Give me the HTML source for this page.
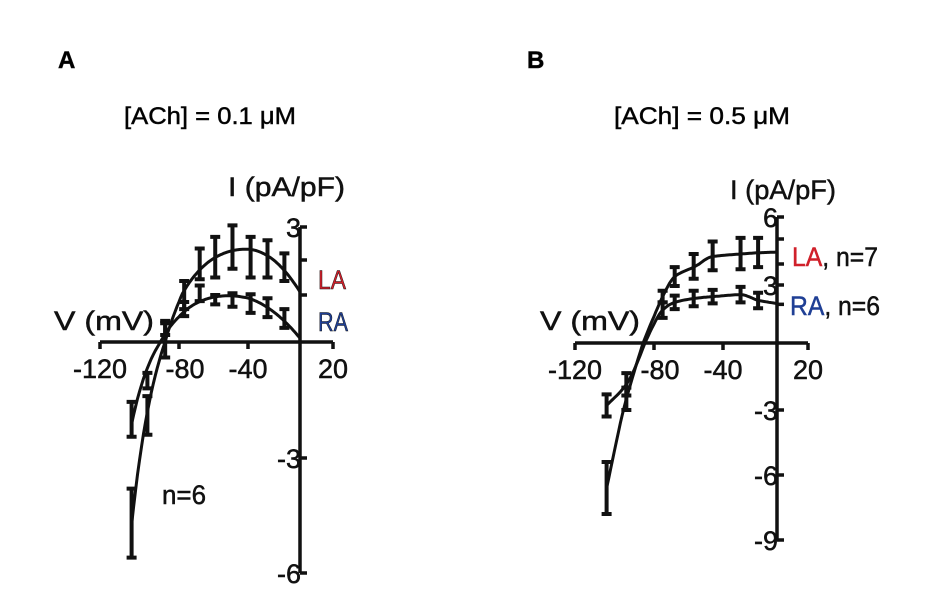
<!DOCTYPE html>
<html><head><meta charset="utf-8">
<style>
html,body{margin:0;padding:0;background:#fff;}
svg{display:block;font-family:"Liberation Sans",Arial,sans-serif;}
svg text{stroke:#111;stroke-width:0.5;}
</style></head>
<body>
<svg id="fig" width="941" height="608" viewBox="0 0 941 608">
  <text x="58" y="68" font-size="24" font-weight="bold">A</text>
  <text x="124" y="124" font-size="24" textLength="172" lengthAdjust="spacingAndGlyphs">[ACh] = 0.1 μM</text>
  <text x="527" y="68" font-size="24" font-weight="bold">B</text>
  <text x="614" y="124" font-size="24" textLength="176" lengthAdjust="spacingAndGlyphs">[ACh] = 0.5 μM</text>
  <g id="pa"></g>
  <g id="pb"></g>
</svg>
<script>
// ---------- data ----------
const xTicks = [-120, -80, -40, 20];
const xTickLabels = ["-120", "-80", "-40", "20"];
const aYTicks = [3, -3, -6];
const aYTickLabels = ["3", "-3", "-6"];
const aYMinor = [2, 1];
const bYTicks = [6, 3, -3, -6, -9];
const bYTickLabels = ["6", "3", "-3", "-6", "-9"];
const bYMinor = [5, 4, 2];

const aVoltage = [-104, -96, -87, -77, -68, -59, -49, -38, -25, -12];
const aLAMean = [-4.7, -1.9, 0.0, 1.05, 1.9, 2.1, 2.4, 2.1, 2.05, 1.8];
const aLAErr = [0.9, 0.5, 0.4, 0.35, 0.45, 0.6, 0.65, 0.6, 0.55, 0.4];
const aRAMean = [-2.0, -1.0, 0.3, 0.7, 1.07, 0.9, 0.9, 0.82, 0.73, 0.5];
const aRAErr = [0.45, 0.2, 0.15, 0.15, 0.2, 0.1, 0.15, 0.2, 0.2, 0.2];

const bVoltage = [-104, -94, -75, -68, -57, -46, -27, -14];
const bLAMean = [-6.6, -2.5, 2.4, 3.4, 3.85, 4.3, 4.4, 4.45];
const bLAErr = [1.2, 0.5, 0.3, 0.45, 0.55, 0.6, 0.65, 0.6];
const bRAMean = [-2.8, -1.85, 1.7, 2.1, 2.3, 2.4, 2.5, 2.2];
const bRAErr = [0.5, 0.5, 0.4, 0.35, 0.4, 0.35, 0.4, 0.4];

// ---------- helpers ----------
const NS = "http://www.w3.org/2000/svg";
function mk(parent, tag, attrs) {
  const e = document.createElementNS(NS, tag);
  for (const k in attrs) e.setAttribute(k, attrs[k]);
  parent.appendChild(e);
  return e;
}
function piece(dom, rng) {
  return function (v) {
    let i = 0;
    while (i < dom.length - 2 && ((dom[1] > dom[0]) ? v > dom[i + 1] : v < dom[i + 1])) i++;
    const t = (v - dom[i]) / (dom[i + 1] - dom[i]);
    return rng[i] + t * (rng[i + 1] - rng[i]);
  };
}
const basisA = [v => 1, v => v / 100, v => (v / 100) * (v / 100), v => Math.exp(-(v + 100) / 11)];
function fit(xs, ys, basis) {
  const m = basis.length, A = [], b = [];
  for (let r = 0; r < m; r++) { A.push(new Array(m).fill(0)); b.push(0); }
  xs.forEach((x, k) => {
    const phi = basis.map(f => f(x));
    for (let r = 0; r < m; r++) {
      b[r] += ys[k] * phi[r];
      for (let c = 0; c < m; c++) A[r][c] += phi[r] * phi[c];
    }
  });
  for (let i = 0; i < m; i++) {
    let p = i;
    for (let r = i + 1; r < m; r++) if (Math.abs(A[r][i]) > Math.abs(A[p][i])) p = r;
    [A[i], A[p]] = [A[p], A[i]]; [b[i], b[p]] = [b[p], b[i]];
    for (let r = i + 1; r < m; r++) {
      const f = A[r][i] / A[i][i];
      for (let c = i; c < m; c++) A[r][c] -= f * A[i][c];
      b[r] -= f * b[i];
    }
  }
  const co = new Array(m).fill(0);
  for (let i = m - 1; i >= 0; i--) {
    let s = b[i];
    for (let c = i + 1; c < m; c++) s -= A[i][c] * co[c];
    co[i] = s / A[i][i];
  }
  return v => basis.reduce((acc, f, i) => acc + co[i] * f(v), 0);
}
// monotone cubic (Fritsch-Carlson) interpolation, linear extrapolation past the end
function monotone(xs, ys) {
  const n = xs.length, d = [], m = [];
  for (let i = 0; i < n - 1; i++) d.push((ys[i + 1] - ys[i]) / (xs[i + 1] - xs[i]));
  m[0] = d[0]; m[n - 1] = d[n - 2];
  for (let i = 1; i < n - 1; i++) m[i] = (d[i - 1] * d[i] <= 0) ? 0 : 2 / (1 / d[i - 1] + 1 / d[i]);
  return v => {
    if (v >= xs[n - 1]) return ys[n - 1] + d[n - 2] * 0.5 * (v - xs[n - 1]);
    let i = 0;
    while (i < n - 2 && v > xs[i + 1]) i++;
    const h = xs[i + 1] - xs[i], t = (v - xs[i]) / h;
    const h00 = 2 * t * t * t - 3 * t * t + 1, h10 = t * t * t - 2 * t * t + t, h01 = -2 * t * t * t + 3 * t * t, h11 = t * t * t - t * t;
    return h00 * ys[i] + h10 * h * m[i] + h01 * ys[i + 1] + h11 * h * m[i + 1];
  };
}

function panel(g, cfg) {
  const sx = cfg.sx, sy = cfg.sy;
  const x0 = sx(0), y0 = sy(0);
  const xa = mk(g, "line", {x1: sx(-120), x2: sx(20), y1: y0, y2: y0, stroke: "#111", "stroke-width": 3.5});
  
  
  const ya = mk(g, "line", {x1: x0, x2: x0, y1: sy(cfg.yMax), y2: sy(cfg.yMin), stroke: "#111", "stroke-width": 3.5});
  
  
  xTicks.forEach((v, i) => {
    const t = mk(g, "line", {x1: sx(v), x2: sx(v), y1: y0, y2: y0 + 7, stroke: "#111", "stroke-width": 3.5});
    
    
    const off = v === -80 ? 6 : 0;
    const l = mk(g, "text", {x: sx(v) + off, y: y0 + 36, "font-size": 27, "text-anchor": "middle", fill: "#111"});
    l.textContent = xTickLabels[i];
    
    
  });
  cfg.yTicks.forEach((v, i) => {
    const t = mk(g, "line", {x1: x0, x2: x0 + 7, y1: sy(v), y2: sy(v), stroke: "#111", "stroke-width": 3.5});
    
    
    const l = mk(g, "text", {x: x0 + 1, y: sy(v) + 10, "font-size": 27, "text-anchor": "end", fill: "#111"});
    l.textContent = cfg.yLabels[i];
    
    
  });
  cfg.yMinor.forEach(v => {
    const t = mk(g, "line", {x1: x0, x2: x0 + 7, y1: sy(v), y2: sy(v), stroke: "#111", "stroke-width": 3.5});
    
    
  });
  cfg.series.forEach(s => {
    const f = cfg.curve(s.v, s.m);
    let d = "";
    for (let v = s.v[0]; v <= 0.001; v += 1) {
      d += (d ? " L" : "M") + sx(v).toFixed(1) + "," + sy(f(v)).toFixed(1);
    }
    const p = mk(g, "path", {d: d, fill: "none", stroke: "#111", "stroke-width": 3});
    
    
    s.v.forEach((v, i) => {
      const x = sx(v), yt = sy(s.m[i] + s.e[i]), yb = sy(s.m[i] - s.e[i]);
      const eb = mk(g, "path", {d: `M${x},${yt}V${yb}M${x - 5},${yt}H${x + 5}M${x - 5},${yb}H${x + 5}`, stroke: "#111", "stroke-width": 4, fill: "none"});
      
      
    });
  });
}

const sxA = piece([-120, -80, -40, 0, 20], [100, 179, 248, 300, 333]);
const syA = piece([3, 2, 1, 0, -3, -6], [227, 260, 295, 342, 458, 573]);
panel(document.getElementById("pa"), {
  sx: sxA, sy: syA, yMax: 3, yMin: -6, yTicks: aYTicks, yLabels: aYTickLabels, yMinor: aYMinor,
  curve: (xs, ys) => fit(xs, ys, basisA),
  series: [{name: "a-la", v: aVoltage, m: aLAMean, e: aLAErr}, {name: "a-ra", v: aVoltage, m: aRAMean, e: aRAErr}]
});
const sxB = piece([-120, -80, -40, 0, 20], [575, 654, 723, 777, 808]);
const syB = piece([6, 5, 4, 3, 0, -3, -6, -9], [217, 239, 264, 285, 343, 410, 475, 540]);
panel(document.getElementById("pb"), {
  sx: sxB, sy: syB, yMax: 6, yMin: -9, yTicks: bYTicks, yLabels: bYTickLabels, yMinor: bYMinor,
  curve: monotone,
  series: [{name: "b-la", v: bVoltage, m: bLAMean, e: bLAErr}, {name: "b-ra", v: bVoltage, m: bRAMean, e: bRAErr}]
});

// ---------- labels ----------
const svg = document.getElementById("fig");
function label(x, y, txt, name, fill, len) {
  const t = mk(svg, "text", {x: x, y: y, "font-size": 27, fill: fill || "#111"});
  if (fill) t.setAttribute("stroke", fill);
  if (len) { t.setAttribute("textLength", len); t.setAttribute("lengthAdjust", "spacingAndGlyphs"); }
  t.innerHTML = txt;
  
  
}
label(228, 196, "I (pA/pF)", "a-y-axis-title", null, 117);
label(54, 330, "V (mV)", "a-x-axis-title", null, 100);
label(318, 289, "LA", "a-legend-la", "#d0202a", 28);
label(318, 331, "RA", "a-legend-ra", "#1f3f95", 30);
label(162, 504, "n=6", "a-n-label", null, 44);
label(730, 199, "I (pA/pF)", "b-y-axis-title", null, 106);
label(540, 330, "V (mV)", "b-x-axis-title", null, 100);
label(792, 266, '<tspan fill="#d0202a" stroke="#d0202a">LA</tspan>, n=7', "b-legend-la", null, 86);
label(790, 315, '<tspan fill="#1f3f95" stroke="#1f3f95">RA</tspan>, n=6', "b-legend-ra", null, 90);
</script>
</body></html>
